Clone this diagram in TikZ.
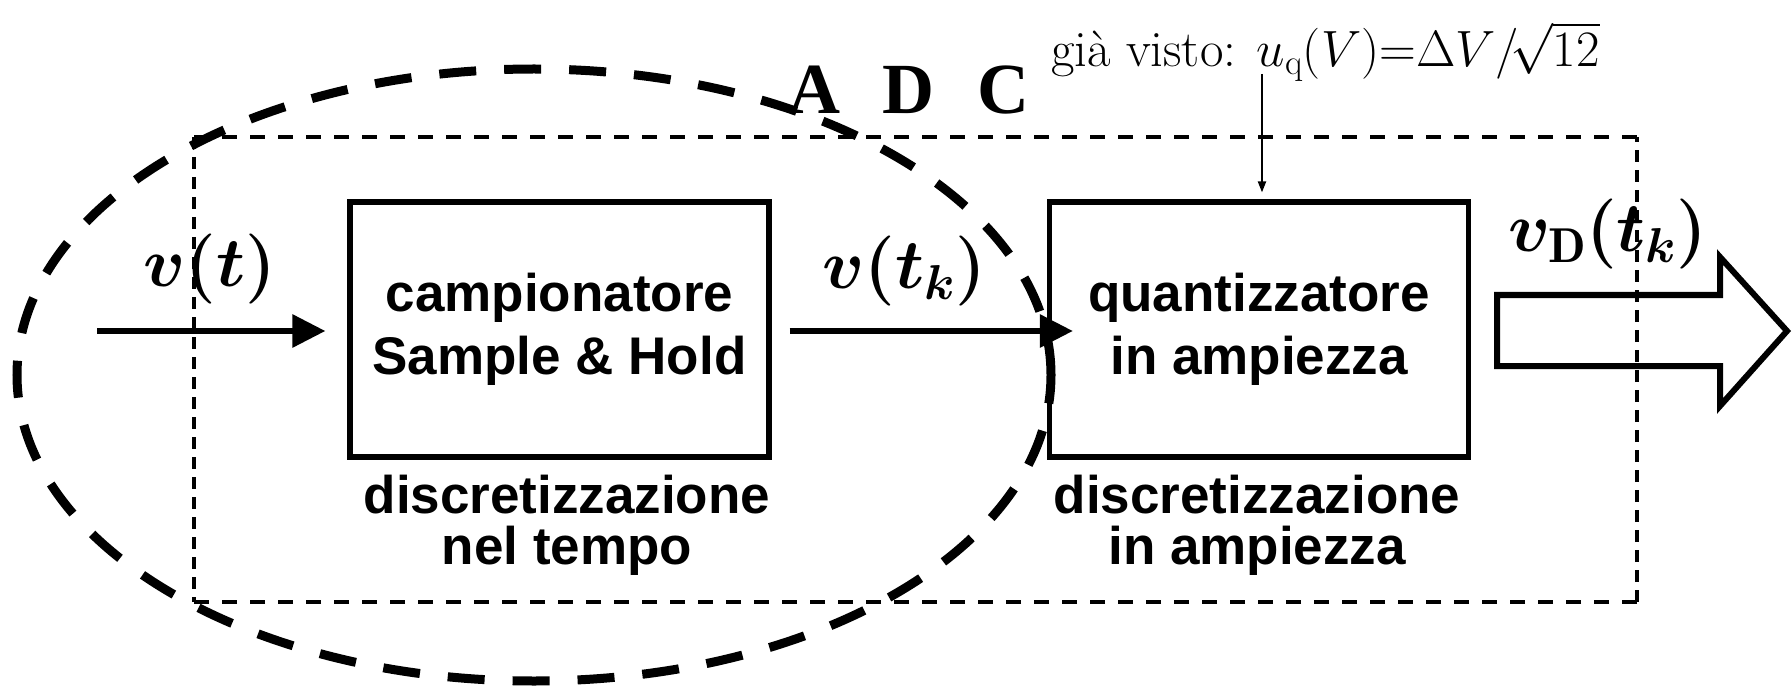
\RequirePackage{fix-cm}
\documentclass[tikz,border=0pt]{standalone}
\usepackage{fontspec}
\setsansfont{Liberation Sans}
\newfontfamily\adcfont{Liberation Serif}
\usetikzlibrary{arrows.meta}
\tikzset{
  blockbox/.style={draw, line width=5.2pt, minimum width=419pt, minimum height=255pt, inner sep=0pt,
    font=\sffamily\bfseries\fontsize{53}{63}\selectfont, align=center},
  caption/.style={font=\sffamily\bfseries\fontsize{53}{51}\selectfont, align=center, inner sep=0pt},
  sig/.style={line width=6pt, -{Triangle[length=33pt,width=32pt]}},
  siglabel/.style={font=\boldmath\fontsize{70}{70}\selectfont, inner sep=0pt},
  adch/.style={line width=3.5pt, dash pattern=on 15pt off 13pt},
  adcv/.style={line width=3.5pt, dash pattern=on 12pt off 8pt},
  adcellipse/.style={line width=9pt, dash pattern=on 37pt off 28pt},
  notearrow/.style={line width=2pt, -{Triangle[length=11pt,width=8pt]}},
  bigarrow/.style={line width=6pt, line join=miter}
}
\begin{document}
\begin{tikzpicture}[x=1pt,y=-1pt]
\useasboundingbox (0,0) rectangle (1792,687);
% dashed ADC rectangle
\coordinate (r1) at (194,137);
\coordinate (r2) at (1637,602);
\draw[adch] (r1) -- (r1 -| r2);
\draw[adch] (r2) -- (r2 -| r1);
\draw[adcv] (r1) -- (r1 |- r2);
\draw[adcv] (r2) -- (r2 |- r1);
% dashed ellipse
\draw[adcellipse] (534,375) ellipse [x radius=517pt, y radius=306pt];
% ADC title
\node[font=\adcfont\bfseries\fontsize{72}{72}\selectfont, inner sep=0pt] (adc) at (909,90) {A\hspace{43pt}D\hspace{43pt}C};
% blocks
\node[blockbox] (b1) at (559.5,329.5) {campionatore\\Sample \& Hold};
\node[blockbox] (b2) at (1259,329.5) {quantizzatore\\in ampiezza};
% captions
\node[caption] (c1) at (567,525) {discretizzazione\\nel tempo};
\node[caption] (c2) at (1257,525) {discretizzazione\\in ampiezza};
% input arrow
\coordinate (in) at (97,331);
\draw[sig] (in) -- ([xshift=-22pt]b1.west |- in);
\node[siglabel] (lvt) at (210,269) {$v(t)$};
% middle arrow
\draw[sig, shorten <=18pt, shorten >=-26pt] (b1.east |- in) -- (b2.west |- in);
\node[siglabel] (lvtk) at (904,271) {$v(t_k)$};
% annotation
\node[anchor=base west, font=\fontsize{51}{51}\selectfont, inner sep=0pt] (note) at (1051,67)
  {già visto: $u_{\mathrm{q}}(V)$=$\Delta V/\!\sqrt{12}$};
\coordinate (na) at (1262,74);
\draw[notearrow, shorten >=7pt] (na) -- (na |- b2.north);
% output hollow arrow
\draw[bigarrow] (1497,295) -- (1720,295) -- (1720,257) -- (1787,331) -- (1720,406) -- (1720,366) -- (1497,366) -- cycle;
\node[siglabel] (lvd) at (1608,234) {$v_{\mathrm{D}}(t_k)$};
\end{tikzpicture}
\end{document}
